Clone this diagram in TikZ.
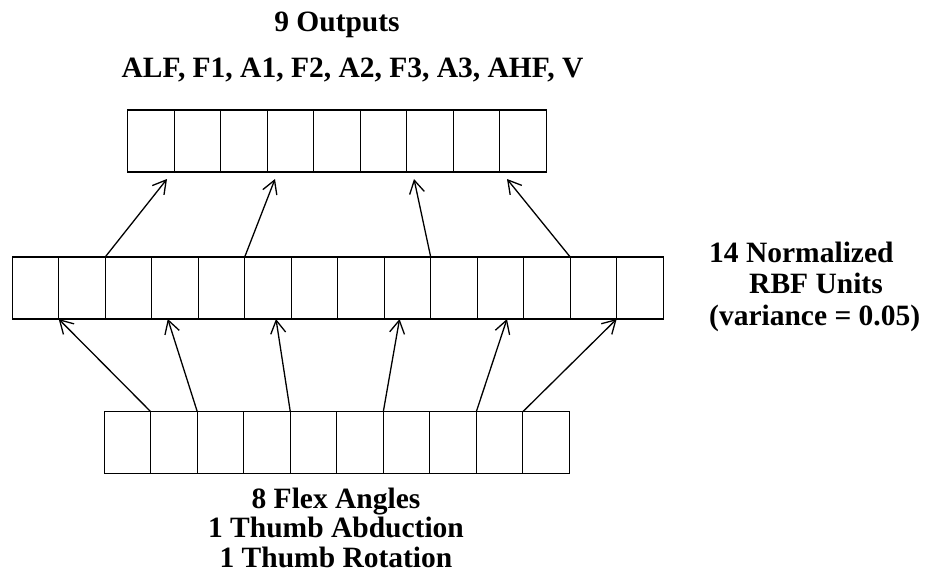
\documentclass[tikz,border=0pt]{standalone}
\usepackage{fontspec}
\setmainfont{Liberation Serif}
\usetikzlibrary{arrows.meta,calc}
\begin{document}
\begin{tikzpicture}[x=1pt,y=-1pt,
  cell/.style={draw,line width=1.3pt,minimum width=46.5pt,minimum height=62pt,inner sep=0pt,outer sep=0pt},
  link/.style={line width=1.3pt,-{Straight Barb[length=13pt,width=15pt,line width=1.3pt]}},
  lbl/.style={inner sep=0pt,font=\bfseries\fontsize{29.5}{29.5}\selectfont}]
\useasboundingbox (0,0) rectangle (927,576);
% rows of cells
\foreach \i in {1,...,9}
  \node[cell] (t\i) at ({127.7+46.5*(\i-0.5)},141) {};
\foreach \i in {1,...,14}
  \node[cell] (m\i) at ({12.2+46.5*(\i-0.5)},288) {};
\foreach \i in {1,...,10}
  \node[cell] (b\i) at ({104.3+46.5*(\i-0.5)},442.75) {};
% labels
\node[lbl,anchor=base] (outs) at (337,31) {9 Outputs};
\node[lbl,anchor=base] (outnames) at (352.5,77.5) {ALF, F1, A1, F2, A2, F3, A3, AHF, V};
\node[lbl,anchor=base west] (rbf) at (709,262)
  {\fontsize{29.5}{31.7}\selectfont\begin{tabular}[t]{@{}l@{}}14 Normalized\\\hspace*{40pt}RBF Units\\(variance = 0.05)\end{tabular}};
\node[lbl,anchor=base] (inputs) at (336,508)
  {\begin{tabular}[t]{@{}c@{}}8 Flex Angles\\1 Thumb Abduction\\1 Thumb Rotation\end{tabular}};
% arrow end points
\coordinate (p1) at (167,179);
\coordinate (p2) at (275,179);
\coordinate (p3) at (414,179);
\coordinate (p4) at (507,179);
% middle -> top
\draw[link] (m3.north west) -- (p1);
\draw[link] (m6.north west) -- (p2);
\draw[link] (m10.north west) -- (p3);
\draw[link] (m13.north west) -- (p4);
% bottom -> middle
\draw[link] (b2.north west) -- (m2.south west);
\draw[link] (b3.north west) -- ($(m4.south west)!0.346!(m4.south east)$);
\draw[link] (b5.north west) -- ($(m6.south west)!0.673!(m6.south east)$);
\draw[link] (b7.north west) -- ($(m9.south west)!0.33!(m9.south east)$);
\draw[link] (b9.north west) -- ($(m11.south west)!0.64!(m11.south east)$);
\draw[link] (b10.north west) -- (m14.south west);
\end{tikzpicture}
\end{document}
